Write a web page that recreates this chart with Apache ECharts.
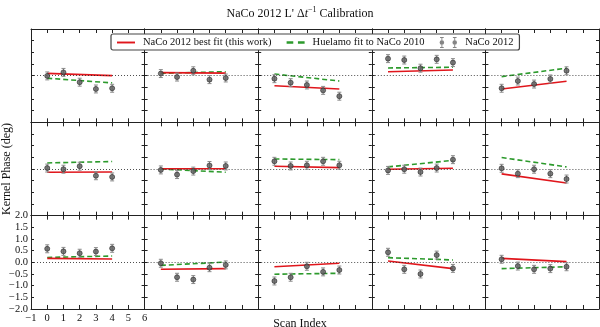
<!DOCTYPE html>
<html>
<head>
<meta charset="utf-8">
<script src="https://cdn.jsdelivr.net/npm/echarts@6/dist/echarts.min.js"></script>
<style>
  html, body { margin: 0; padding: 0; background: #fff; }
  #chart { width: 600px; height: 327px; }
</style>
</head>
<body>
<div id="chart"></div>
<script>
const scanIndex = [0, 1, 2, 3, 4]

// kernel phase measured per panel, row by row (3 rows x 5 columns)
const kpNaco2012 = [
  [-0.01, 0.14, -0.28, -0.57, -0.54],
  [0.09, -0.06, 0.21, -0.17, -0.10],
  [-0.13, -0.30, -0.40, -0.63, -0.88],
  [0.73, 0.67, 0.32, 0.70, 0.56],
  [-0.54, -0.23, -0.36, -0.14, 0.21],
  [0.04, -0.01, 0.12, -0.29, -0.34],
  [-0.04, -0.24, -0.09, 0.15, 0.13],
  [0.33, 0.13, 0.16, 0.33, 0.16],
  [-0.06, -0.01, -0.13, 0.04, 0.40],
  [0.03, -0.20, -0.01, -0.20, -0.43],
  [0.58, 0.47, 0.39, 0.46, 0.60],
  [-0.04, -0.64, -0.74, -0.23, -0.11],
  [-0.80, -0.64, -0.17, -0.41, -0.33],
  [0.43, -0.30, -0.50, 0.31, -0.26],
  [0.13, -0.16, -0.30, -0.27, -0.19],
]
const kpErr = [0.17, 0.17, 0.17, 0.17, 0.17]

// fit values at scan 0 and scan 4
const bestFit2012 = [
  [0.10, 0.00], [0.13, 0.11], [-0.43, -0.57], [0.17, 0.24], [-0.57, -0.24],
  [-0.14, -0.13], [0.01, 0.01], [0.12, 0.06], [-0.01, 0.03], [-0.21, -0.60],
  [0.17, 0.14], [-0.30, -0.27], [-0.19, -0.04], [0.06, -0.27], [0.17, 0.03],
]
const huelamoFit = [
  [-0.11, -0.31], [0.10, 0.17], [0.07, -0.23], [0.33, 0.36], [-0.04, 0.32],
  [0.26, 0.32], [0.00, -0.14], [0.43, 0.40], [0.09, 0.37], [0.49, 0.09],
  [0.21, 0.27], [-0.13, 0.01], [-0.51, -0.47], [0.20, 0.10], [-0.27, -0.19],
]

const FONT = '"Liberation Serif", "DejaVu Serif", serif'
const NAME_BEST = 'NaCo 2012 best fit (this work)'
const NAME_HUEL = 'Huelamo fit to NaCo 2010'
const NAME_OBS = 'NaCo 2012'
const RED = '#e0161c', GREEN = '#2c9a2c'

const chart = echarts.init(document.getElementById('chart'))

const rows = 3, cols = 5
const left0 = 31, top0 = 29
const cellW = 113.6, cellH = 93.33
const labelPanel = 10 // bottom-left panel carries tick labels

const minus = v => String(v).replace('-', '\u2212')

const grid = [], xAxis = [], yAxis = [], series = []

for (let i = 0; i < rows * cols; i++) {
  const r = Math.floor(i / cols), c = i % cols
  grid.push({ left: left0 + c * cellW, top: top0 + r * cellH, width: cellW, height: cellH })

  const showLbl = i === labelPanel
  const axLine = { show: true, onZero: false, lineStyle: { color: '#222', width: 1 } }

  ;['bottom', 'top'].forEach(pos => {
    xAxis.push({
      type: 'value', gridIndex: i, position: pos, min: -1, max: 6, interval: 1,
      axisLine: axLine,
      axisTick: { show: true, inside: true, length: 4, lineStyle: { color: '#222' } },
      axisLabel: {
        show: showLbl && pos === 'bottom', formatter: minus, margin: 4,
        fontFamily: FONT, fontSize: 10.5, color: '#111',
      },
      splitLine: { show: false },
    })
  })
  ;['left', 'right'].forEach(pos => {
    const y = {
      type: 'value', gridIndex: i, position: pos, min: -2, max: 2, interval: 0.5,
      axisLine: axLine,
      axisTick: { show: true, inside: true, length: 3, lineStyle: { color: '#222' } },
      axisLabel: {
        show: showLbl && pos === 'left', formatter: v => minus(v.toFixed(1)), margin: 3,
        fontFamily: FONT, fontSize: 10.5, color: '#111',
      },
      splitLine: { show: false },
    }
    if (i === 5 && pos === 'left') {
      y.name = 'Kernel Phase (deg)'
      y.nameLocation = 'middle'
      y.nameGap = 18
      y.nameTextStyle = { fontFamily: FONT, fontSize: 12, color: '#111' }
    }
    yAxis.push(y)
  })

  const xi = i * 2, yi = i * 2

  series.push({
    name: NAME_HUEL, type: 'line', xAxisIndex: xi, yAxisIndex: yi,
    data: [[scanIndex[0], huelamoFit[i][0]], [scanIndex[4], huelamoFit[i][1]]],
    symbol: 'none', z: 3,
    itemStyle: { color: GREEN },
    lineStyle: { color: GREEN, width: 1.6, type: [5, 3] },
  })
  series.push({
    name: NAME_BEST, type: 'line', xAxisIndex: xi, yAxisIndex: yi,
    data: [[scanIndex[0], bestFit2012[i][0]], [scanIndex[4], bestFit2012[i][1]]],
    symbol: 'none', z: 4,
    itemStyle: { color: RED },
    lineStyle: { color: RED, width: 1.6 },
  })
  series.push({
    name: 'err' + i, type: 'custom', xAxisIndex: xi, yAxisIndex: yi, z: 5,
    data: scanIndex.map((x, k) => [x, kpNaco2012[i][k], kpErr[k]]),
    encode: { x: 0, y: 1 },
    renderItem: (params, api) => {
      const x = api.value(0), y = api.value(1), e = api.value(2)
      const hi = api.coord([x, y + e]), lo = api.coord([x, y - e])
      const w = 2
      const st = { stroke: '#8a8a8a', lineWidth: 1 }
      return {
        type: 'group',
        children: [
          { type: 'line', shape: { x1: hi[0], y1: hi[1], x2: lo[0], y2: lo[1] }, style: st },
          { type: 'line', shape: { x1: hi[0] - w, y1: hi[1], x2: hi[0] + w, y2: hi[1] }, style: st },
          { type: 'line', shape: { x1: lo[0] - w, y1: lo[1], x2: lo[0] + w, y2: lo[1] }, style: st },
        ],
      }
    },
  })
  series.push({
    name: NAME_OBS, type: 'scatter', xAxisIndex: xi, yAxisIndex: yi, z: 6,
    data: scanIndex.map((x, k) => [x, kpNaco2012[i][k]]),
    symbolSize: 5,
    itemStyle: { color: '#5a5a5a', borderColor: '#2a2a2a', borderWidth: 0.8 },
    markLine: {
      silent: true, symbol: 'none', label: { show: false },
      lineStyle: { color: '#222', type: [1, 2], width: 0.8 },
      data: [{ yAxis: 0 }],
    },
  })
}

const solidIcon = 'path://M0,0H16V1.7H0Z'
const dashIcon = 'path://M0,0H5V1.7H0ZM8.5,0H13.5V1.7H8.5Z'
const errIcon = 'path://M2,0H6V1H2ZM3.5,0H4.5V12H3.5ZM2,11H6V12H2ZM1.5,6A2.5,2.5 0 1 1 6.5,6A2.5,2.5 0 1 1 1.5,6Z' +
  'M16,0H20V1H16ZM17.5,0H18.5V12H17.5ZM16,11H20V12H16ZM15.5,6A2.5,2.5 0 1 1 20.5,6A2.5,2.5 0 1 1 15.5,6Z'

const option = {
  backgroundColor: '#fff',
  animation: false,
  title: [
    {
      text: '{a|NaCo 2012 L\' \u0394}{i|t}{s|\u22121}{a| Calibration}',
      left: 'center', top: 1,
      textStyle: {
        fontWeight: 'normal',
        rich: {
          a: { fontFamily: FONT, fontSize: 12, fontWeight: 'normal', color: '#111' },
          i: { fontFamily: FONT, fontSize: 12, fontStyle: 'italic', fontWeight: 'normal', color: '#111' },
          s: { fontFamily: FONT, fontSize: 8, fontWeight: 'normal', color: '#111', padding: [0, 0, 7, 0] },
        },
      },
    },
    {
      text: 'Scan Index', left: 'center', top: 313,
      textStyle: { fontFamily: FONT, fontSize: 12, fontWeight: 'normal', color: '#111' },
    },
  ],
  legend: {
    left: 111, top: 34,
    data: [
      { name: NAME_BEST, icon: solidIcon, itemStyle: { color: RED } },
      { name: NAME_HUEL, icon: dashIcon, itemStyle: { color: GREEN } },
      { name: NAME_OBS, icon: errIcon, itemStyle: { color: '#666', borderWidth: 0 } },
    ],
    itemWidth: 18, itemHeight: 11, itemGap: 15,
    padding: [3, 6, 2, 6],
    borderColor: '#444', borderWidth: 1.2, borderRadius: 2,
    backgroundColor: '#fff',
    textStyle: { fontFamily: FONT, fontSize: 10.5, color: '#111', padding: [0, 0, 0, 3] },
  },
  grid, xAxis, yAxis, series,
}

chart.setOption(option)
</script>
</body>
</html>
